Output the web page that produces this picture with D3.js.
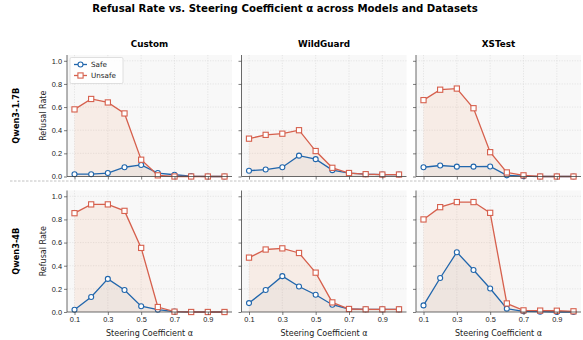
<!DOCTYPE html>
<meta charset="utf-8">
<style>
body { margin: 0; background: #fff; }
svg { font-family: "DejaVu Sans", sans-serif; }
.tick text { font-size: 7.4px; fill: #222; }
.grid line { stroke: #d9d9d9; stroke-dasharray: 1.2,1.4; stroke-width: 0.6; }
</style>
<svg width="583" height="340"></svg>
<script src="https://d3js.org/d3.v7.min.js"></script>
<script>

var alphas = [0.1, 0.2, 0.3, 0.4, 0.5, 0.6, 0.7, 0.8, 0.9, 1.0];
var datasets = ["Custom", "WildGuard", "XSTest"];
var models = ["Qwen3-1.7B", "Qwen3-4B"];
var xTicks = [0.1, 0.3, 0.5, 0.7, 0.9];
var yTicks = [0, 0.2, 0.4, 0.6, 0.8, 1.0];

// refusal rates, [model][dataset]
var safe17 = [
  [0.02, 0.02, 0.03, 0.08, 0.10, 0.03, 0.015, 0.003, 0, 0],
  [0.05, 0.06, 0.08, 0.18, 0.15, 0.055, 0.03, 0.02, 0.017, 0.017],
  [0.08, 0.095, 0.085, 0.085, 0.087, 0.01, 0.003, 0, 0, 0]
];
var unsafe17 = [
  [0.58, 0.67, 0.64, 0.545, 0.145, 0.01, 0, 0, 0, 0],
  [0.327, 0.36, 0.37, 0.40, 0.22, 0.075, 0.03, 0.02, 0.017, 0.017],
  [0.66, 0.75, 0.76, 0.59, 0.21, 0.035, 0.01, 0, 0, 0]
];
var safe4 = [
  [0.02, 0.13, 0.286, 0.19, 0.05, 0.02, 0.003, 0, 0, 0],
  [0.077, 0.19, 0.31, 0.22, 0.149, 0.063, 0.026, 0.023, 0.023, 0.023],
  [0.057, 0.294, 0.517, 0.363, 0.203, 0.029, 0.006, 0.003, 0, 0]
];
var unsafe4 = [
  [0.854, 0.93, 0.93, 0.874, 0.554, 0.043, 0.003, 0, 0, 0],
  [0.47, 0.54, 0.55, 0.51, 0.34, 0.083, 0.026, 0.023, 0.023, 0.023],
  [0.80, 0.906, 0.95, 0.95, 0.857, 0.074, 0.014, 0.012, 0.011, 0.006]
];
var safeData = [safe17, safe4];
var unsafeData = [unsafe17, unsafe4];

var blue = "#2166ac", red = "#d6604d";

var svg = d3.select("svg");

var colLeft = [67, 241.5, 416], pw = 165;
var rowTop = [55, 190.5], ph = 121.5;

var x = d3.scaleLinear().domain([0.055, 1.045]).range([0, pw]);
var y = d3.scaleLinear().domain([0, 1.05]).range([ph, 0]);

svg.append("text")
    .attr("x", 285).attr("y", 12)
    .attr("text-anchor", "middle")
    .attr("font-size", 10.2).attr("font-weight", "bold")
    .text("Refusal Rate vs. Steering Coefficient α across Models and Datasets");

var area = d3.area().x((d, i) => x(alphas[i])).y0(y(0)).y1(d => y(d));
var line = d3.line().x((d, i) => x(alphas[i])).y(d => y(d));

models.forEach(function(m, r) {
  datasets.forEach(function(ds, c) {
    var g = svg.append("g").attr("transform", "translate(" + colLeft[c] + "," + rowTop[r] + ")");

    g.append("rect").attr("width", pw).attr("height", ph).attr("fill", "#f8f8f8");

    // grid
    g.append("g").attr("class", "grid")
      .selectAll("line.v").data(xTicks).join("line")
        .attr("x1", d => x(d)).attr("x2", d => x(d)).attr("y1", 0).attr("y2", ph);
    g.append("g").attr("class", "grid")
      .selectAll("line.h").data(yTicks.slice(1)).join("line")
        .attr("x1", 0).attr("x2", pw).attr("y1", d => y(d)).attr("y2", d => y(d));

    var s = safeData[r][c], u = unsafeData[r][c];

    g.append("path").datum(u).attr("d", area).attr("fill", "#f4a582").attr("fill-opacity", 0.15);
    g.append("path").datum(s).attr("d", area).attr("fill", "#7a8aa0").attr("fill-opacity", 0.07);

    g.append("path").datum(s).attr("d", line).attr("fill", "none").attr("stroke", blue).attr("stroke-width", 1.3);
    g.append("path").datum(u).attr("d", line).attr("fill", "none").attr("stroke", red).attr("stroke-width", 1.3);

    g.selectAll("circle.m").data(s).join("circle")
        .attr("cx", (d, i) => x(alphas[i])).attr("cy", d => y(d)).attr("r", 2.5)
        .attr("fill", "#fff").attr("stroke", blue).attr("stroke-width", 1.1);
    g.selectAll("rect.m").data(u).join("rect")
        .attr("x", (d, i) => x(alphas[i]) - 2.6).attr("y", d => y(d) - 2.6)
        .attr("width", 5.2).attr("height", 5.2)
        .attr("fill", "#fff").attr("stroke", red).attr("stroke-width", 1.1);

    // axes
    var xa = d3.axisBottom(x).tickValues(xTicks).tickSize(3).tickPadding(2).tickFormat(r === 1 ? d3.format(".1f") : "");
    var ya = d3.axisLeft(y).tickValues(yTicks).tickSize(3).tickPadding(2).tickFormat(c === 0 ? d3.format(".1f") : "");
    var gx = g.append("g").attr("transform", "translate(0," + ph + ")").call(xa);
    var gy = g.append("g").call(ya);
    [gx, gy].forEach(function(a) {
      a.select(".domain").attr("stroke", "#444").attr("stroke-width", 0.8)
        .attr("d", a === gx ? "M0,0H" + pw : "M0,0V" + ph);
      a.selectAll(".tick line").attr("stroke", "#444").attr("stroke-width", 0.7);
    });

    if (r === 0) {
      g.append("text").attr("x", pw / 2).attr("y", -8)
        .attr("text-anchor", "middle").attr("font-size", 8.8).attr("font-weight", "bold")
        .text(ds);
    }
    if (r === 1) {
      g.append("text").attr("x", pw / 2).attr("y", ph + 24)
        .attr("text-anchor", "middle").attr("font-size", 8).attr("fill", "#222")
        .text("Steering Coefficient α");
    }
    if (c === 0) {
      g.append("text").attr("transform", "translate(-21.5," + (ph / 2) + ") rotate(-90)")
        .attr("text-anchor", "middle").attr("font-size", 8).attr("fill", "#222")
        .text("Refusal Rate");
      g.append("text").attr("transform", "translate(-48," + (ph / 2) + ") rotate(-90)")
        .attr("text-anchor", "middle").attr("font-size", 8.2).attr("font-weight", "bold")
        .text(m);
    }

    if (r === 0 && c === 0) {
      var lg = g.append("g").attr("transform", "translate(3,2.5)");
      lg.append("rect").attr("width", 53).attr("height", 26).attr("rx", 1.5)
        .attr("fill", "#fff").attr("fill-opacity", 0.85).attr("stroke", "#ccc").attr("stroke-width", 0.6);
      [["Safe", blue, 0], ["Unsafe", red, 1]].forEach(function(e) {
        var yy = 7 + e[2] * 11;
        lg.append("line").attr("x1", 4).attr("x2", 17).attr("y1", yy).attr("y2", yy)
          .attr("stroke", e[1]).attr("stroke-width", 1.3);
        if (e[2] === 0) {
          lg.append("circle").attr("cx", 10.5).attr("cy", yy).attr("r", 2.5)
            .attr("fill", "#fff").attr("stroke", e[1]).attr("stroke-width", 1.1);
        } else {
          lg.append("rect").attr("x", 7.9).attr("y", yy - 2.6).attr("width", 5.2).attr("height", 5.2)
            .attr("fill", "#fff").attr("stroke", e[1]).attr("stroke-width", 1.1);
        }
        lg.append("text").attr("x", 21).attr("y", yy + 2.5).attr("font-size", 7.2).attr("fill", "#222").text(e[0]);
      });
    }
  });
});

// separator between the two model rows
svg.append("line")
    .attr("x1", 10).attr("x2", 558).attr("y1", 181).attr("y2", 181)
    .attr("stroke", "#bbb").attr("stroke-width", 0.9).attr("stroke-dasharray", "2.5,1.5");

</script>
